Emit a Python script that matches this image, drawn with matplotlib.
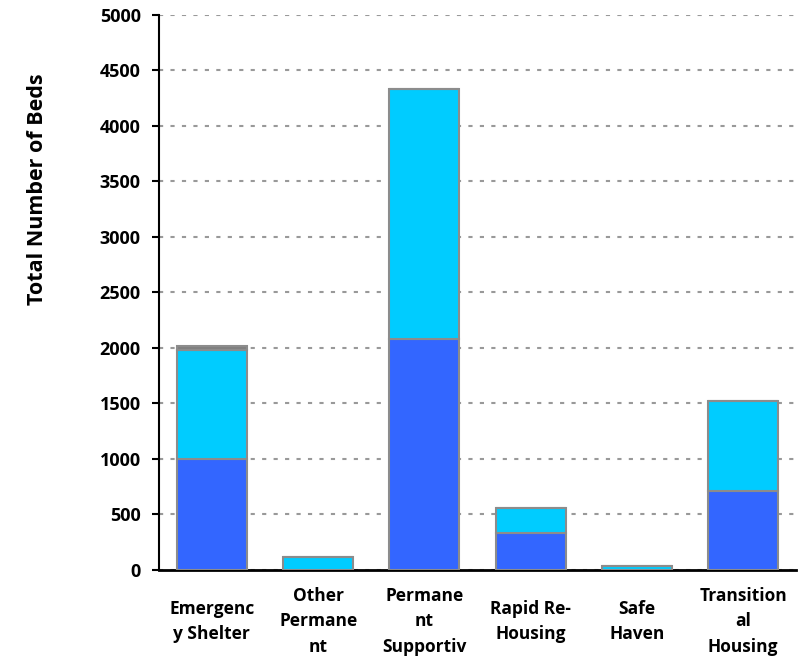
import matplotlib
matplotlib.use("Agg")
import matplotlib.pyplot as plt
import numpy as np

categories = ["Emergenc\ny Shelter", "Other\nPermane\nnt", "Permane\nnt\nSupportiv",
              "Rapid Re-\nHousing", "Safe\nHaven", "Transition\nal\nHousing"]
series_bottom = [1000, 0, 2080, 330, 0, 710]
series_middle = [985, 115, 2250, 230, 35, 810]
series_top = [30, 0, 0, 0, 0, 0]
yticks = [0, 500, 1000, 1500, 2000, 2500, 3000, 3500, 4000, 4500, 5000]

plt.rcParams['font.family'] = ['Open Sans', 'DejaVu Sans']

fig = plt.figure(figsize=(8.06, 6.69), dpi=100)
ax = fig.add_axes([0.197, 0.148, 0.791, 0.830])

x = np.arange(len(categories))
w = 0.66
edge = '#8c8c8c'
ax.bar(x, series_bottom, w, color='#3366FF', edgecolor=edge, linewidth=1.5, zorder=3)
b2 = np.array(series_bottom)
ax.bar(x, series_middle, w, bottom=b2, color='#00CCFF', edgecolor=edge, linewidth=1.5, zorder=3)
b3 = b2 + np.array(series_middle)
ax.bar(x, series_top, w, bottom=b3, color='#808080', edgecolor=edge, linewidth=1.5, zorder=3)

ax.set_xlim(-0.5, len(categories) - 0.5)
ax.set_ylim(0, 5000)
ax.set_yticks(yticks)
ax.set_yticklabels([str(v) for v in yticks], fontsize=13, fontweight='bold')
ax.yaxis.grid(True, color='#999999', linestyle=(0, (2, 3.5)), linewidth=1.5, zorder=0)
ax.set_xticks(x)
ax.set_xticklabels(categories, fontsize=12.5, fontweight='bold', linespacing=1.55)
for lab in ax.get_xticklabels():
    lab.set_verticalalignment('center')
ax.tick_params(axis='x', length=0, pad=37)
ax.tick_params(axis='y', length=5, width=1.5, direction='out', pad=8)

for s in ['top', 'right']:
    ax.spines[s].set_visible(False)
ax.spines['left'].set_linewidth(1.5)
ax.spines['bottom'].set_linewidth(2)

ax.set_ylabel("Total Number of Beds", fontsize=15.5, fontweight='bold')
ax.yaxis.set_label_coords(-0.173, 0.685)

fig.savefig("out.png", dpi=100)
